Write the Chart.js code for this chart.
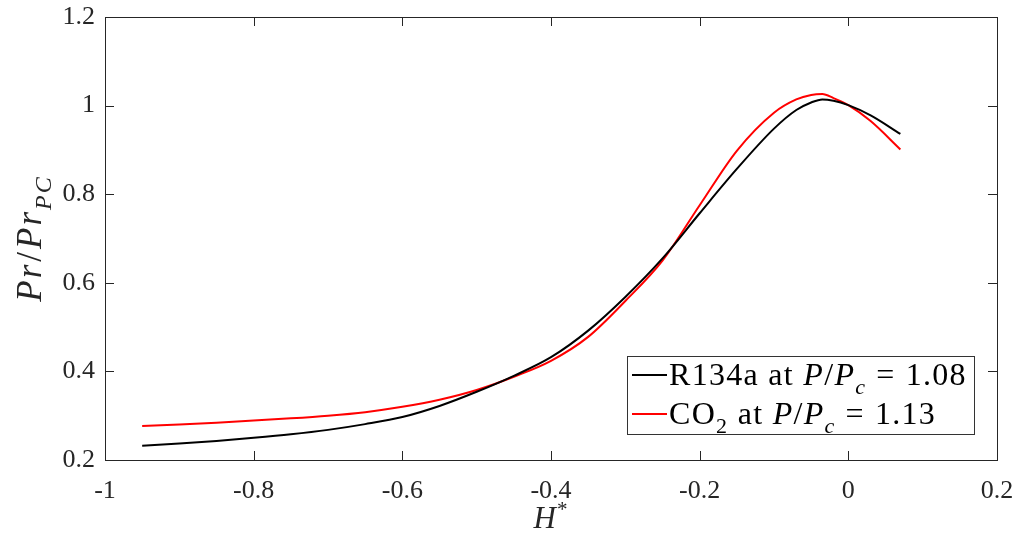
<!DOCTYPE html>
<html>
<head>
<meta charset="utf-8">
<script src="https://cdn.jsdelivr.net/npm/chart.js@4/dist/chart.umd.min.js"></script>
<style>
  html, body { margin: 0; padding: 0; background: #fff; }
  #wrap { width: 1023px; height: 540px; }
</style>
</head>
<body>
<div id="wrap"><canvas id="prChart" width="1023" height="540"></canvas></div>
<script>
// H* values and normalised Prandtl number for both fluids
const hStar = [-0.95, -0.9, -0.85, -0.8, -0.75, -0.7, -0.65, -0.6, -0.55, -0.5, -0.45, -0.4, -0.35, -0.3, -0.25, -0.2, -0.15, -0.1, -0.07, -0.05, -0.035, -0.02, 0, 0.03, 0.07];
const prR134a = [0.232, 0.237, 0.243, 0.250, 0.258, 0.268, 0.281, 0.297, 0.322, 0.354, 0.390, 0.432, 0.492, 0.568, 0.655, 0.757, 0.857, 0.948, 0.990, 1.007, 1.014, 1.011, 1.001, 0.978, 0.936];
const prCO2 = [0.277, 0.280, 0.284, 0.289, 0.294, 0.300, 0.308, 0.320, 0.336, 0.358, 0.388, 0.424, 0.478, 0.559, 0.650, 0.775, 0.898, 0.984, 1.014, 1.024, 1.026, 1.017, 1.001, 0.965, 0.901];

const xTicksMin = -1, xTicksMax = 0.2, yTicksMin = 0.2, yTicksMax = 1.2, tickStep = 0.2;

const serif = '"Liberation Serif", "DejaVu Serif", serif';
const axisColor = '#262626';

const toPoints = (xs, ys) => xs.map((x, i) => ({ x: x, y: ys[i] }));
const fmtTick = v => String(parseFloat(v.toFixed(2)) || 0);

// draw a run of text pieces (italic / subscript / superscript / extra gap) from x
function drawRuns(ctx, runs, x, y, size, align, spacing) {
  ctx.letterSpacing = (spacing || 0) + 'px';
  const fontOf = r => (r.it ? 'italic ' : '') + Math.round(r.sub || r.sup ? size * 0.68 : size) + 'px ' + serif;
  const widths = runs.map(r => {
    ctx.font = fontOf(r);
    return ctx.measureText(r.t).width + (r.gap || 0) * 2;
  });
  const total = widths.reduce((a, b) => a + b, 0);
  let cx = align === 'center' ? x - total / 2 : x;
  runs.forEach((r, i) => {
    ctx.font = fontOf(r);
    let dy = 0;
    if (r.sub) dy = size * 0.28;
    if (r.sup) dy = -size * 0.38;
    ctx.fillText(r.t, cx + (r.gap || 0), y + dy);
    cx += widths[i];
  });
  ctx.letterSpacing = '0px';
}

const frameAndLabels = {
  id: 'frameAndLabels',
  afterDraw(chart) {
    const { ctx, chartArea: a, scales } = chart;
    ctx.save();
    // axes box
    ctx.strokeStyle = axisColor;
    ctx.lineWidth = 1;
    ctx.strokeRect(Math.round(a.left) + 0.5, Math.round(a.top) + 0.5, Math.round(a.right - a.left), Math.round(a.bottom - a.top));
    // inward ticks on all four sides
    const tl = 9;
    ctx.beginPath();
    scales.x.ticks.forEach(t => {
      const px = Math.round(scales.x.getPixelForValue(t.value)) + 0.5;
      ctx.moveTo(px, a.bottom); ctx.lineTo(px, a.bottom - tl);
      ctx.moveTo(px, a.top); ctx.lineTo(px, a.top + tl);
    });
    scales.y.ticks.forEach(t => {
      const py = Math.round(scales.y.getPixelForValue(t.value)) + 0.5;
      ctx.moveTo(a.left, py); ctx.lineTo(a.left + tl, py);
      ctx.moveTo(a.right, py); ctx.lineTo(a.right - tl, py);
    });
    ctx.stroke();

    // axis titles
    ctx.fillStyle = axisColor;
    ctx.textBaseline = 'alphabetic';
    drawRuns(ctx, [{ t: 'H', it: true }, { t: '*', sup: true }], (a.left + a.right) / 2, 528, 31, 'center', 1);
    ctx.save();
    ctx.translate(41, (a.top + a.bottom) / 2);
    ctx.rotate(-Math.PI / 2);
    drawRuns(ctx, [{ t: 'Pr', it: true }, { t: '/', gap: 1 }, { t: 'Pr', it: true }, { t: 'PC', it: true, sub: true }], 0, 0, 35, 'center', 2);
    ctx.restore();

    // legend
    const lx = 627, ly = 356, lw = 347, lh = 78;
    ctx.fillStyle = '#fff';
    ctx.fillRect(lx, ly, lw, lh);
    ctx.strokeStyle = '#333';
    ctx.strokeRect(lx + 0.5, ly + 0.5, lw, lh);
    const rows = [
      { color: chart.data.datasets[0].borderColor, y: 375, runs: [{ t: 'R134a at ' }, { t: 'P', it: true }, { t: '/' }, { t: 'P', it: true }, { t: 'c', it: true, sub: true }, { t: '=', gap: 10 }, { t: '1.08' }] },
      { color: chart.data.datasets[1].borderColor, y: 414, runs: [{ t: 'CO' }, { t: '2', sub: true }, { t: ' at ' }, { t: 'P', it: true }, { t: '/' }, { t: 'P', it: true }, { t: 'c', it: true, sub: true }, { t: '=', gap: 10 }, { t: '1.13' }] }
    ];
    rows.forEach(r => {
      ctx.strokeStyle = r.color;
      ctx.lineWidth = 2;
      ctx.beginPath();
      ctx.moveTo(632, r.y); ctx.lineTo(667, r.y);
      ctx.stroke();
      ctx.fillStyle = '#000';
      drawRuns(ctx, r.runs, 669, r.y + 10, 32, 'left', 1.3);
    });
    ctx.restore();
  }
};

new Chart(document.getElementById('prChart'), {
  type: 'line',
  data: {
    datasets: [
      { label: 'R134a', data: toPoints(hStar, prR134a), borderColor: '#000000', borderWidth: 2, pointRadius: 0, cubicInterpolationMode: 'monotone', fill: false },
      { label: 'CO2', data: toPoints(hStar, prCO2), borderColor: '#ff0000', borderWidth: 2, pointRadius: 0, cubicInterpolationMode: 'monotone', fill: false }
    ]
  },
  options: {
    responsive: false,
    animation: false,
    layout: { padding: { top: 17, right: 26, left: 0, bottom: 0 } },
    plugins: { legend: { display: false }, tooltip: { enabled: false } },
    scales: {
      x: {
        type: 'linear',
        min: xTicksMin, max: xTicksMax,
        grid: { display: false, drawTicks: false },
        border: { display: false },
        ticks: { stepSize: tickStep, padding: 16, color: axisColor, font: { family: serif, size: 26 }, callback: v => fmtTick(v) },
        afterFit(s) { s.height = 80; s.paddingLeft = 0; s.paddingRight = 0; }
      },
      y: {
        min: yTicksMin, max: yTicksMax,
        grid: { display: false, drawTicks: false },
        border: { display: false },
        ticks: { stepSize: tickStep, padding: 10, color: axisColor, font: { family: serif, size: 26 }, callback: v => fmtTick(v) },
        afterFit(s) { s.width = 105; s.paddingTop = 0; s.paddingBottom = 0; }
      }
    }
  },
  plugins: [frameAndLabels]
});
</script>
</body>
</html>
